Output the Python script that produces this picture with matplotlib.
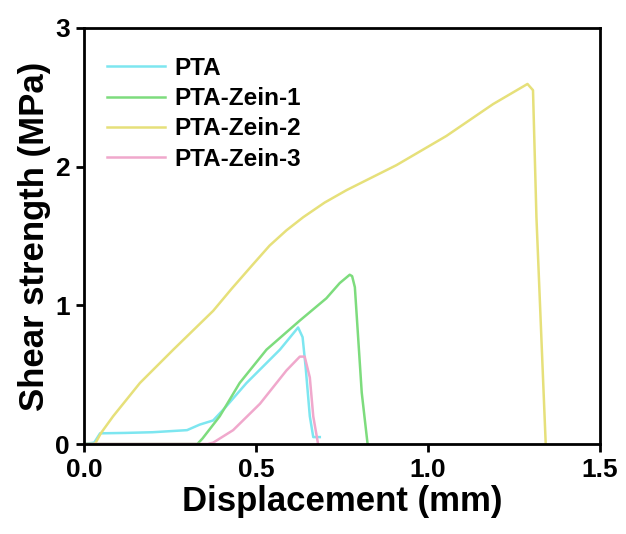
import matplotlib
matplotlib.use("Agg")
import matplotlib.pyplot as plt

# Данные кривых (смещение, мм / прочность на сдвиг, МПа)
pta_x = [0.0, 0.03, 0.047, 0.12, 0.20, 0.30, 0.337, 0.376, 0.41, 0.473, 0.57, 0.623, 0.636, 0.645, 0.657, 0.667, 0.676, 0.686]
pta_y = [0.0, 0.01, 0.077, 0.08, 0.085, 0.10, 0.14, 0.17, 0.26, 0.44, 0.68, 0.84, 0.77, 0.55, 0.20, 0.05, 0.05, 0.05]

z1_x = [0.0, 0.33, 0.345, 0.395, 0.453, 0.531, 0.628, 0.705, 0.744, 0.773, 0.780, 0.788, 0.808, 0.825]
z1_y = [0.0, 0.0, 0.04, 0.20, 0.44, 0.68, 0.89, 1.05, 1.16, 1.22, 1.21, 1.13, 0.37, 0.0]

z2_x = [0.0, 0.032, 0.05, 0.085, 0.163, 0.26, 0.376, 0.43, 0.49, 0.54, 0.589, 0.638, 0.70, 0.764, 0.909, 1.054, 1.19, 1.29, 1.306, 1.316, 1.343]
z2_y = [0.0, 0.0, 0.08, 0.20, 0.44, 0.68, 0.96, 1.12, 1.29, 1.43, 1.54, 1.635, 1.74, 1.83, 2.01, 2.22, 2.45, 2.595, 2.55, 1.635, 0.0]

z3_x = [0.0, 0.36, 0.376, 0.434, 0.512, 0.589, 0.628, 0.642, 0.657, 0.667, 0.681]
z3_y = [0.0, 0.0, 0.01, 0.10, 0.29, 0.53, 0.63, 0.63, 0.48, 0.20, 0.0]

series = [
    ("PTA", pta_x, pta_y, "#7de6f0"),
    ("PTA-Zein-1", z1_x, z1_y, "#7ddc7d"),
    ("PTA-Zein-2", z2_x, z2_y, "#e6e07a"),
    ("PTA-Zein-3", z3_x, z3_y, "#f0a8cc"),
]

plt.rcParams['font.family'] = ['Liberation Sans', 'DejaVu Sans']
plt.rcParams['font.weight'] = 'bold'

fig = plt.figure(figsize=(6.26, 5.34), dpi=100)
ax = fig.add_axes([0.134, 0.1685, 0.824, 0.7795])

for name, xs, ys, col in series:
    ax.plot(xs, ys, color=col, lw=1.8, label=name)

ax.set_xlim(0, 1.5)
ax.set_ylim(0, 3)
ax.set_xticks([0.0, 0.5, 1.0, 1.5])
ax.set_xticklabels(["0.0", "0.5", "1.0", "1.5"])
ax.set_yticks([0, 1, 2, 3])

for sp in ax.spines.values():
    sp.set_linewidth(2)
ax.tick_params(direction='out', length=6, width=2, labelsize=19, pad=4)
for lab in ax.get_xticklabels() + ax.get_yticklabels():
    lab.set_fontweight('bold')

ax.set_xlabel("Displacement (mm)", fontsize=25, fontweight='bold', labelpad=2)
ax.set_ylabel("Shear strength (MPa)", fontsize=25, fontweight='bold', labelpad=3)

leg = ax.legend(loc='upper left', frameon=False, fontsize=17.5, handlelength=2.4,
                handletextpad=0.35, labelspacing=0.3, borderpad=0, borderaxespad=0,
                bbox_to_anchor=(0.045, 0.93))
for t in leg.get_texts():
    t.set_fontweight('bold')

fig.savefig("out.png", dpi=100)
